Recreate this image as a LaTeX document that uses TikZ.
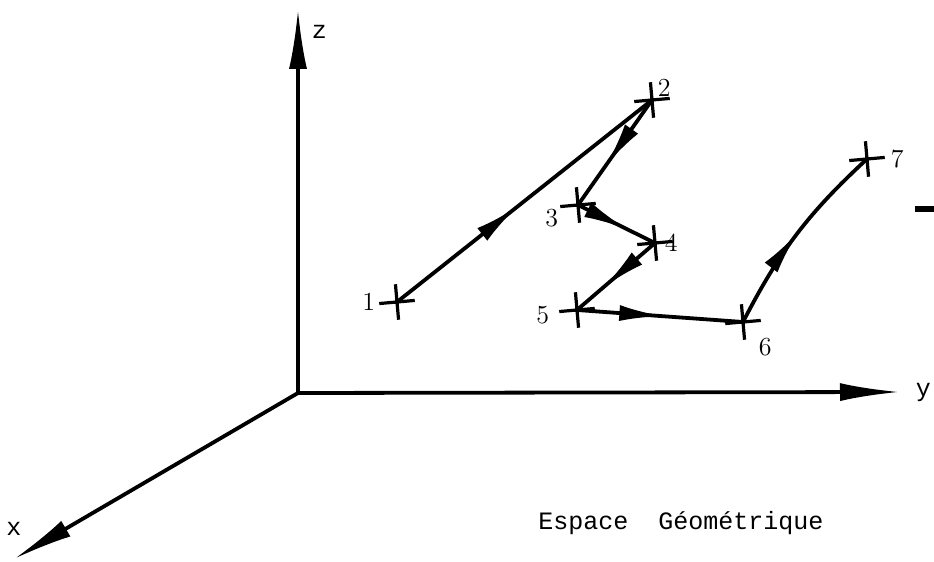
\documentclass[tikz,border=0pt]{standalone}
\usepackage{fontspec}
\setmonofont{Liberation Mono}
\usepackage{tikz}
\usetikzlibrary{positioning}
\usetikzlibrary{arrows.meta}
\usetikzlibrary{shapes.misc}
\usetikzlibrary{decorations.markings}

\begin{document}
\begin{tikzpicture}[x=0.5pt, y=0.5pt, line width=1.9pt,
    crossmk/.style={draw, cross out, rotate=50, minimum size=11pt, inner sep=0pt, line width=1.6pt},
    num/.style={inner sep=1pt, font=\fontsize{13}{15}\selectfont},
    axlbl/.style={inner sep=1pt, font=\fontsize{12.5}{14}\selectfont\ttfamily},
    axis/.style={-{Latex[length=30pt, width=9pt]}},
    midarrow/.style={postaction={decorate}, decoration={markings,
        mark=at position #1 with {\arrow{Latex[length=22pt, width=8pt]}}}},
    midarrow/.default=0.55]
          \useasboundingbox (0,0) rectangle (934,562);

          % axes
          \coordinate (O) at (298, 169);
          \coordinate (xend) at (14, 3);
          \coordinate (yend) at (900, 170);
          \coordinate (zend) at (298, 553);
          \draw[axis] (O) -- (zend);
          \draw[axis] (O) -- (yend);
          \draw[axis] (O) -- (xend);
          \node[axlbl, below right=6pt and 5pt of zend] (zlbl) {z};
          \node[axlbl, right=6pt of yend] (ylbl) {y};
          \node[axlbl, above=10pt of xend] (xlbl) {x};

          % points of the path
          \coordinate (p1) at (397, 260);
          \coordinate (p2) at (652, 462);
          \coordinate (p3) at (578, 357);
          \coordinate (p4) at (655, 319);
          \coordinate (p5) at (577, 252);
          \coordinate (p6) at (743, 240);
          \coordinate (p7) at (867, 403);

          \foreach \p in {p1, p2, p3, p4, p5, p6, p7}
            \node[crossmk] at (\p) {};

          \node[num, left=9pt of p1] (l1) {1};
          \node[num, above right=0pt and 1pt of p2] (l2) {2};
          \node[num, below left=0pt and 8pt of p3] (l3) {3};
          \node[num, right=3pt of p4] (l4) {4};
          \node[num, below left=-4pt and 12pt of p5] (l5) {5};
          \node[num, below right=6pt and 6pt of p6] (l6) {6};
          \node[num, right=10pt of p7] (l7) {7};

          \draw[midarrow=0.47] (p1) -- (p2);
          \draw[midarrow=0.62] (p2) -- (p3);
          \draw[midarrow=0.64] (p3) -- (p4);
          \draw[midarrow=0.66] (p4) -- (p5);
          \draw[midarrow=0.52] (p5) -- (p6);
          \draw[midarrow=0.51] (p6) to[bend left=10] (p7);

          % stray mark at the right edge
          \draw[line width=3pt] (915, 353) -- (934, 353);

          \node[axlbl, anchor=base] (title) at (681, 32) {Espace\ \ Géométrique};
        \end{tikzpicture}
\end{document}
